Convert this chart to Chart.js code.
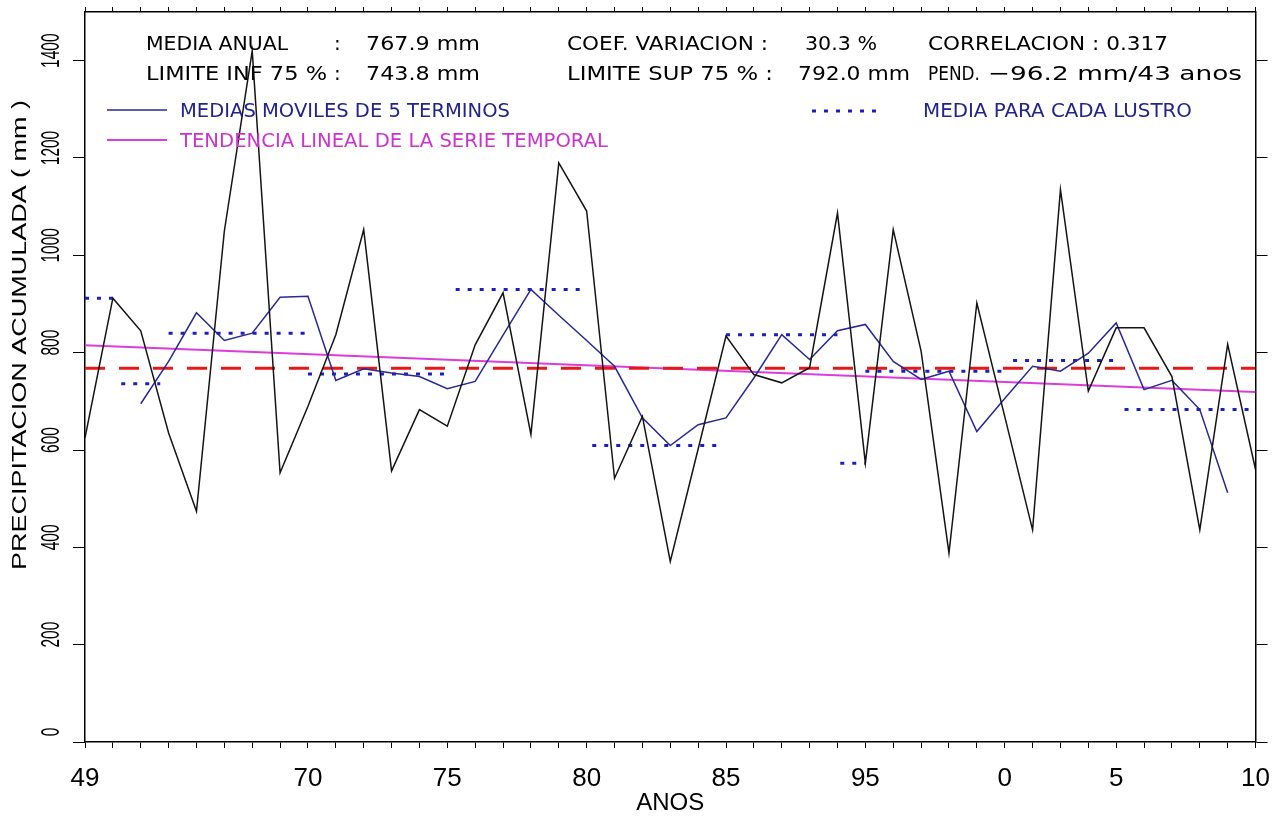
<!DOCTYPE html>
<html>
<head>
<meta charset="utf-8">
<script src="https://cdn.jsdelivr.net/npm/chart.js@4.4.1/dist/chart.umd.min.js"></script>
<style>
html, body { margin: 0; padding: 0; background: #fff; }
canvas { display: block; }
</style>
</head>
<body>
<canvas id="canvas" width="1285" height="818"></canvas>
<script>
// precipitacion anual (mm), un valor por año
const precip = [625, 912, 845, 635, 474, 1050, 1420, 553, 690, 837, 1053, 557, 683, 649, 816,
    923, 632, 1190, 1091, 542, 669, 371, 602, 834, 755, 738, 769, 1087, 573, 1053,
    803, 388, 902, 669, 436, 1135, 721, 851, 851, 751, 436, 817, 560];
// medias moviles de 5 terminos
const movil = [null, null, 695, 782, 882, 825, 840, 914, 916, 743, 767, 758, 751, 726, 741,
    836, 930, 877, 825, 772, 666, 609, 652, 666, 748, 837, 786, 845, 858, 782,
    745, 762, 638, 706, 772, 762, 799, 861, 724, 743, 683, 512, null];
// media para cada lustro (tramos)
const lustroIni = [0, 1.3, 3, 8, 13.3, 18.2, 23, 27.1, 28, 33.3, 37.3];
const lustroFin = [1, 2.7, 8, 13, 18, 22.8, 27, 28, 33, 37, 42];
const lustroMedia = [912, 736, 840, 756, 930, 609, 837, 573, 762, 784, 683];
// tendencia lineal
const tendIni = 815;
const tendFin = 719;
// estadisticos
const mediaAnual = 767.9;
const limInf = 743.8;
const limSup = 792.0;
const coefVar = 30.3;
const correl = 0.317;
const pend = -96.2;
const nAnos = 43;
// ejes
const tickPos = [0, 8, 13, 18, 23, 28, 33, 37, 42];
const tickText = ['49', '70', '75', '80', '85', '95', '0', '5', '10'];
const yTicks = [0, 200, 400, 600, 800, 1000, 1200, 1400];

const last = precip.length - 1;
const xTicks = s => { s.ticks = precip.map((_, i) => ({ value: i })); };
const yTickList = s => { s.ticks = yTicks.map(v => ({ value: v })); };

const lustroPts = [];
lustroMedia.forEach((m, k) => {
    lustroPts.push({ x: lustroIni[k], y: m }, { x: lustroFin[k], y: m }, { x: lustroFin[k], y: null });
});

// draw a text stretched to span x0..x1
function fitText(ctx, s, x0, x1, y) {
    const w = ctx.measureText(s).width;
    ctx.save();
    ctx.translate(x0, y);
    ctx.scale((x1 - x0) / w, 1);
    ctx.fillText(s, 0, 0);
    ctx.restore();
}

const headerPlugin = {
    id: 'header',
    afterDraw(chart) {
        const ctx = chart.ctx;
        const ys = chart.scales.y;
        ctx.save();
        ctx.fillStyle = '#000';
        // y tick labels (rotated)
        ctx.font = '25px "Liberation Sans"';
        ctx.textAlign = 'center';
        ctx.textBaseline = 'middle';
        yTicks.forEach(v => {
            ctx.save();
            ctx.translate(52, ys.getPixelForValue(v) - 10);
            ctx.rotate(-Math.PI / 2);
            ctx.scale(0.62, 1);
            ctx.fillText(String(v), 0, 0);
            ctx.restore();
        });
        // y title
        const yTitle = 'PRECIPITACION ACUMULADA ( mm )';
        ctx.font = '21px "Liberation Sans"';
        ctx.save();
        ctx.translate(20, 335);
        ctx.rotate(-Math.PI / 2);
        ctx.scale(470 / ctx.measureText(yTitle).width, 1);
        ctx.fillText(yTitle, 0, 0);
        ctx.restore();

        // stats
        ctx.font = '20px "DejaVu Sans"';
        ctx.textAlign = 'left';
        ctx.textBaseline = 'alphabetic';
        const t = [
            ['MEDIA ANUAL', 146, 288, 50], [mediaAnual.toFixed(1) + ' mm', 366, 480, 50],
            ['COEF. VARIACION :', 567, 768, 50], [coefVar.toFixed(1) + ' %', 805, 877, 50],
            ['CORRELACION : ' + correl.toFixed(3), 928, 1168, 50],
            ['LIMITE INF 75 %', 146, 327, 80], [limInf.toFixed(1) + ' mm', 366, 480, 80],
            ['LIMITE SUP 75 % :', 567, 773, 80], [limSup.toFixed(1) + ' mm', 798, 910, 80],
            ['PEND.', 928, 980, 80], ['\u2212' + Math.abs(pend).toFixed(1) + ' mm/' + nAnos + ' anos', 988, 1242, 80]
        ];
        t.forEach(([s, x0, x1, y]) => fitText(ctx, s, x0, x1, y));
        ctx.fillText(':', 334, 50);
        ctx.fillText(':', 334, 80);

        // legend
        ctx.fillStyle = 'rgb(35,35,140)';
        fitText(ctx, 'MEDIAS MOVILES DE 5 TERMINOS', 180, 510, 117);
        fitText(ctx, 'MEDIA PARA CADA LUSTRO', 923, 1192, 117);
        ctx.fillStyle = 'rgb(205,50,205)';
        fitText(ctx, 'TENDENCIA LINEAL DE LA SERIE TEMPORAL', 180, 608, 147);

        ctx.lineWidth = 1.5;
        ctx.strokeStyle = 'rgb(40,40,150)';
        ctx.beginPath(); ctx.moveTo(107, 110); ctx.lineTo(167, 110); ctx.stroke();
        ctx.strokeStyle = 'rgb(220,60,220)';
        ctx.lineWidth = 2;
        ctx.beginPath(); ctx.moveTo(107, 140); ctx.lineTo(167, 140); ctx.stroke();
        ctx.strokeStyle = 'rgb(30,30,190)';
        ctx.lineWidth = 3;
        ctx.setLineDash([4, 8]);
        ctx.beginPath(); ctx.moveTo(812, 111); ctx.lineTo(880, 111); ctx.stroke();
        ctx.restore();
    }
};

const ctx = document.getElementById('canvas').getContext('2d');
const chart = new Chart(ctx, {
    type: 'line',
    data: {
        datasets: [
            {
                data: precip.map((v, i) => ({ x: i, y: v })),
                borderColor: 'rgb(20,20,20)', borderWidth: 1.5, order: 1
            },
            {
                data: movil.map((v, i) => ({ x: i, y: v })),
                borderColor: 'rgb(40,40,150)', borderWidth: 1.5, order: 2
            },
            {
                data: [{ x: 0, y: mediaAnual }, { x: last, y: mediaAnual }],
                borderColor: 'rgb(230,25,25)', borderWidth: 3, borderDash: [20, 14], order: 3
            },
            {
                data: [{ x: 0, y: tendIni }, { x: last, y: tendFin }],
                borderColor: 'rgb(220,60,220)', borderWidth: 2, order: 4
            },
            {
                data: lustroPts,
                borderColor: 'rgb(30,30,190)', borderWidth: 3, borderDash: [4, 8], spanGaps: false, order: 5
            }
        ]
    },
    options: {
        responsive: false,
        animation: false,
        layout: { padding: 0 },
        elements: { point: { radius: 0 }, line: { tension: 0, fill: false } },
        plugins: { legend: { display: false }, tooltip: { enabled: false } },
        scales: {
            x: {
                type: 'linear', min: 0, max: last,
                afterBuildTicks: xTicks,
                afterFit: s => { s.height = 76; },
                ticks: {
                    autoSkip: false, maxRotation: 0, minRotation: 0, padding: 15, color: '#000',
                    font: { family: 'Liberation Sans', size: 26 },
                    callback: v => { const k = tickPos.indexOf(v); return k >= 0 ? tickText[k] : ''; }
                },
                grid: { drawOnChartArea: false, tickLength: 6, color: '#000' },
                border: { color: '#000', width: 1.5 },
                title: { display: true, text: 'ANOS', color: '#000', font: { family: 'Liberation Sans', size: 24 }, padding: { top: 0, bottom: 0 } }
            },
            x2: {
                type: 'linear', position: 'top', min: 0, max: last,
                afterBuildTicks: xTicks,
                afterFit: s => { s.height = 12; },
                ticks: { display: false },
                grid: { drawOnChartArea: false, tickLength: 5, color: '#000' },
                border: { color: '#000', width: 1.5 }
            },
            y: {
                type: 'linear', min: 0, max: 1500,
                afterBuildTicks: yTickList,
                afterFit: s => { s.width = 85; },
                ticks: { display: false },
                grid: { drawOnChartArea: false, tickLength: 12, color: '#000' },
                border: { color: '#000', width: 1.5 }
            },
            y2: {
                type: 'linear', position: 'right', min: 0, max: 1500,
                afterBuildTicks: yTickList,
                afterFit: s => { s.width = 26; },
                ticks: { display: false },
                grid: { drawOnChartArea: false, tickLength: 12, color: '#000' },
                border: { color: '#000', width: 1.5 }
            }
        }
    },
    plugins: [headerPlugin]
});
</script>
</body>
</html>
